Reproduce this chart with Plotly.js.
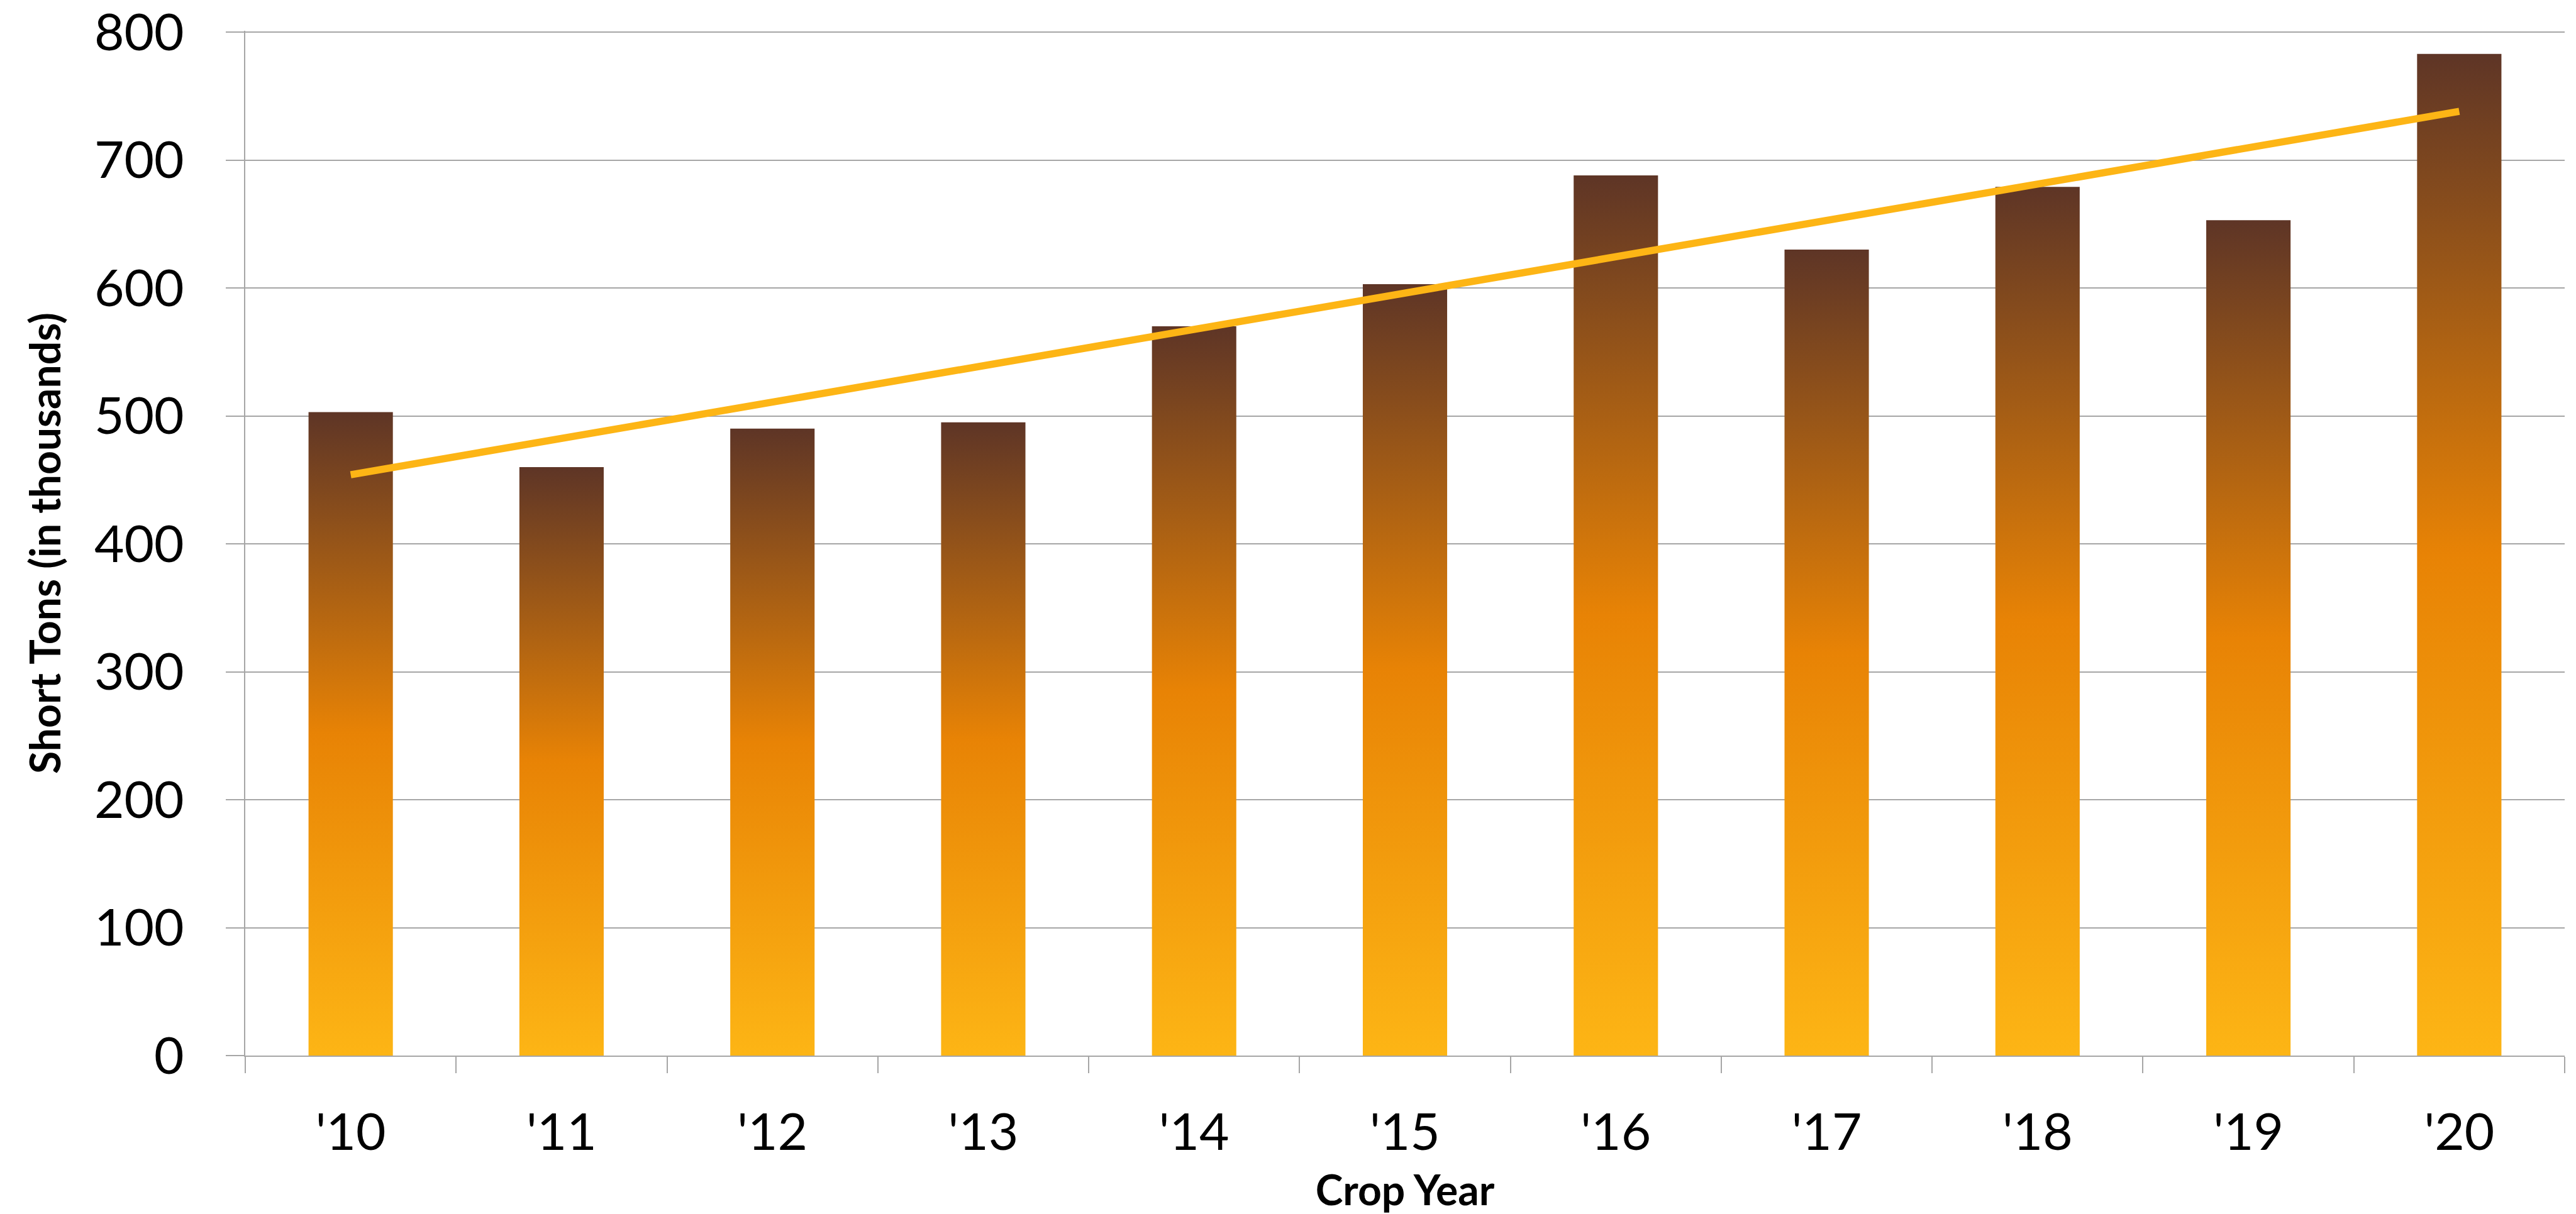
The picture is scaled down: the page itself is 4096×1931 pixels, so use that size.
<!DOCTYPE html>
<html>
<head>
<meta charset="utf-8">
<script src="https://cdn.plot.ly/plotly-3.0.1.min.js"></script>
<style>
  html, body { margin: 0; padding: 0; background: #ffffff; }
  #chart { width: 4096px; height: 1931px; }
</style>
</head>
<body>
<div id="chart"></div>
<script>
// ---- data ----
const categories = ["'10", "'11", "'12", "'13", "'14", "'15", "'16", "'17", "'18", "'19", "'20"];
const shortTons = [503, 460, 490, 495, 570, 603, 688, 630, 679, 653, 783];
const trendYears = ["'10", "'20"];
const trendValues = [454, 738];
const yTickValues = [0, 100, 200, 300, 400, 500, 600, 700, 800];

// ---- styling ----
const FONT = "Lato, 'Open Sans', sans-serif";
const GRID = "#A6A6A6";
const BAR_WIDTH = 0.4;
const barColorscale = [[0, "#FDB515"], [0.5, "#E88305"], [1, "#5E3526"]];
const TREND_COLOR = "#FDB515";

const traces = [];
categories.forEach(function (cat, i) {
  const v = shortTons[i];
  const x0 = i - BAR_WIDTH / 2, x1 = i + BAR_WIDTH / 2;
  traces.push({
    type: "scatter",
    mode: "lines",
    name: cat,
    x: [x0, x1, x1, x0, x0],
    y: [0, 0, v, v, 0],
    fill: "toself",
    fillgradient: { type: "vertical", colorscale: barColorscale },
    line: { width: 0, color: "rgba(0,0,0,0)" },
    hoverinfo: "skip",
    showlegend: false
  });
});

traces.push({
  type: "scatter",
  mode: "lines",
  name: "Trend",
  x: trendYears.map(function (c) { return categories.indexOf(c); }),
  y: trendValues,
  line: { color: TREND_COLOR, width: 11.5 },
  hoverinfo: "skip",
  showlegend: false
});

const boundaries = [];
for (let k = 0; k <= categories.length; k++) boundaries.push(k - 0.5);

const layout = {
  width: 4096,
  height: 1931,
  paper_bgcolor: "#ffffff",
  plot_bgcolor: "#ffffff",
  margin: { l: 390.4, r: 18.3, t: 49, b: 251.6, pad: 0 },
  font: { family: FONT, color: "#000000" },
  showlegend: false,
  xaxis: {
    type: "linear",
    range: [-0.5, categories.length - 0.5],
    tickmode: "array",
    tickvals: categories.map(function (c, i) { return i; }),
    ticktext: categories,
    ticks: "",
    ticklabelstandoff: 50,
    tickfont: { family: FONT, size: 82, color: "#000000" },
    showgrid: false,
    zeroline: false,
    showline: true,
    linecolor: GRID,
    linewidth: 2,
    minor: {
      tickmode: "array",
      tickvals: boundaries,
      ticks: "outside",
      ticklen: 26,
      tickwidth: 2,
      tickcolor: GRID,
      showgrid: false
    },
    title: {
      text: "Crop Year",
      font: { family: FONT, size: 66, color: "#000000", weight: "bold" },
      standoff: 40
    },
    fixedrange: true
  },
  yaxis: {
    range: [0, 801],
    tickmode: "array",
    tickvals: yTickValues,
    ticktext: yTickValues.map(String),
    ticks: "outside",
    ticklen: 29,
    tickwidth: 2,
    tickcolor: GRID,
    ticklabelstandoff: 50,
    ticklabeloverflow: "allow",
    tickfont: { family: FONT, size: 82, color: "#000000" },
    showgrid: true,
    gridcolor: GRID,
    gridwidth: 2,
    zeroline: false,
    showline: true,
    linecolor: GRID,
    linewidth: 2,
    title: {
      text: "Short Tons (in thousands)",
      font: { family: FONT, size: 66, color: "#000000", weight: "bold" },
      standoff: 32
    },
    fixedrange: true
  }
};

Plotly.newPlot("chart", traces, layout, { displayModeBar: false, staticPlot: true });
</script>
</body>
</html>
